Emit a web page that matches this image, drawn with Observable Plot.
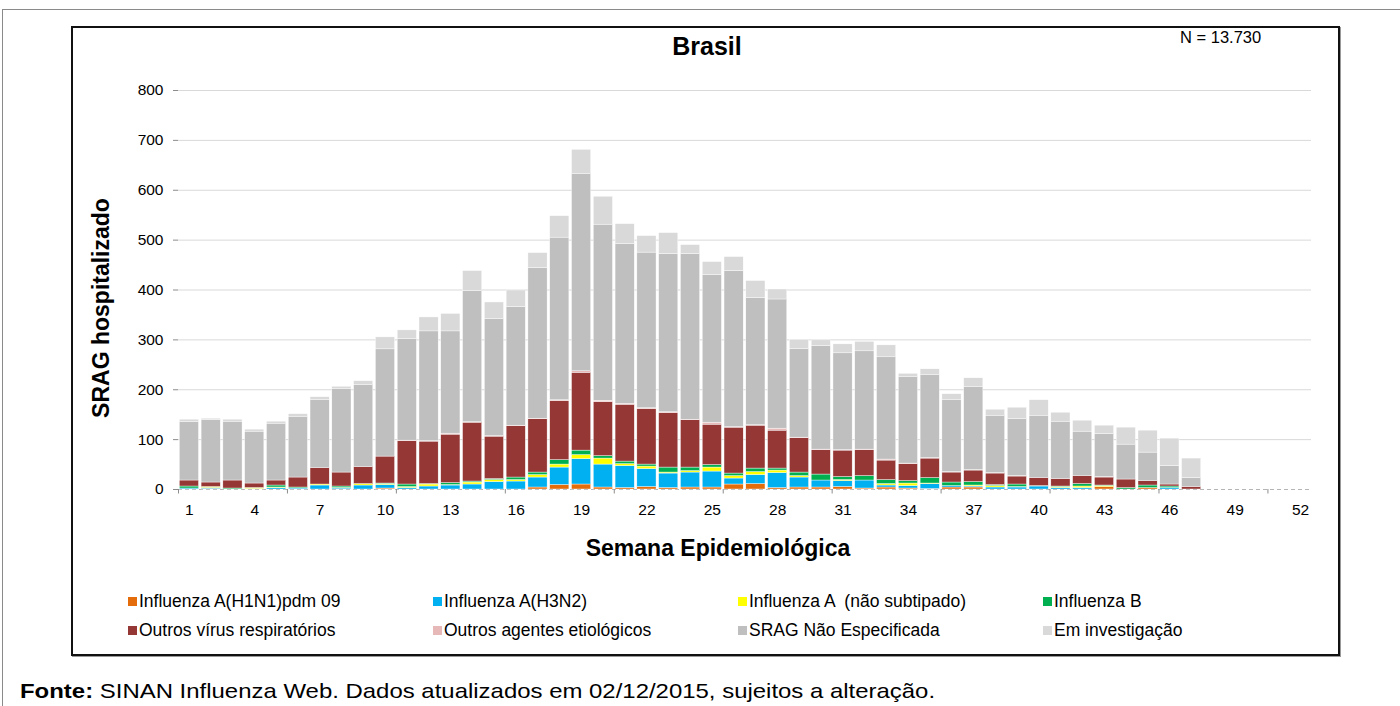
<!DOCTYPE html>
<html>
<head>
<meta charset="utf-8">
<script src="https://cdn.jsdelivr.net/npm/d3@7"></script>
<script src="https://cdn.jsdelivr.net/npm/@observablehq/plot@0.6"></script>
<style>
  html, body { margin: 0; padding: 0; background: #fff; }
  body { font-family: "Liberation Sans", Arial, sans-serif; }
  #wrap { position: relative; width: 1400px; height: 706px; overflow: hidden; }
  #outer { position: absolute; left: 2px; top: 9px; width: 1500px; height: 800px; border-left: 1.5px solid #8a8a8a; border-top: 1.5px solid #8a8a8a; }
  #box { position: absolute; left: 71px; top: 26px; width: 1265px; height: 626px; border: 2px solid #111; box-shadow: 1px 1px 0 #999; }
  #chart { position: absolute; left: 0; top: 0; }
  .t { position: absolute; white-space: pre; color: #000; }
  #title { left: 707px; top: 46px; transform: translate(-50%, -50%); font-weight: bold; font-size: 25px; }
  #n { left: 1180px; top: 28px; font-size: 16.5px; }
  #ylab { left: 101px; top: 308px; transform: translate(-50%, -50%) rotate(-90deg); font-weight: bold; font-size: 23px; }
  #xlab { left: 718px; top: 548px; transform: translate(-50%, -50%); font-weight: bold; font-size: 23px; }
  #legend .item { position: absolute; font-size: 17.5px; line-height: 20px; white-space: pre; }
  #legend .sw { display: inline-block; width: 9px; height: 9px; margin-right: 2px; vertical-align: 1px; }
  #caption { left: 20px; top: 679px; font-size: 21px; transform-origin: 0 50%; transform: scaleX(1.14); }
</style>
</head>
<body>
<div id="wrap">
  <div id="outer"></div>
  <div id="box"></div>
  <div id="chart"></div>
  <div class="t" id="title">Brasil</div>
  <div class="t" id="n">N = 13.730</div>
  <div class="t" id="ylab">SRAG hospitalizado</div>
  <div class="t" id="xlab">Semana Epidemiológica</div>
  <div id="legend"></div>
  <div class="t" id="caption"><b>Fonte:</b> SINAN Influenza Web. Dados atualizados em 02/12/2015, sujeitos a alteração.</div>
</div>
<script>
// ---- data (cases per epidemiological week) ----
const weeks = d3.range(1, 53);
const h1n1 = [0,1,0,0,0,0,0,0,0,2, 0,0,0,0,0,0,4,9,10,4, 3,5,3,4,4,10,11,3,4,4, 5,2,4,2,1,4,4,0,0,0, 0,0,5,0,3,0,0, 0,0,0,0,0];
const h3n2 = [2,2,0,1,3,2,8,2,8,7, 3,6,8,10,15,16,20,35,51,46, 44,36,29,30,32,12,18,30,20,14, 12,16,4,5,10,3,2,4,4,6, 3,3,0,0,0,3,0, 0,0,0,0,0];
const fluANaoSub = [0,2,0,2,1,0,2,1,3,2, 2,4,1,4,4,3,5,6,8,12, 4,5,2,3,8,5,6,5,3,0, 2,0,3,5,1,0,2,3,1,0, 2,3,2,0,0,0,0, 0,0,0,0,0];
const fluB = [4,0,2,0,4,2,0,3,0,1, 5,1,4,2,2,5,5,9,9,5, 5,4,10,7,5,5,7,4,7,12, 6,9,8,5,11,7,7,2,5,1, 1,5,1,3,5,3,0, 0,0,0,0,0];
const outrosVirus = [12,9,16,9,10,20,33,28,34,54, 87,85,97,118,85,103,107,118,156,108, 114,111,109,95,81,92,86,76,69,49, 53,52,39,34,39,20,23,23,16,16, 15,16,16,17,9,4,5, 0,0,0,0,0];
const outrosAgentes = [0,0,0,0,0,0,0,0,0,0, 1,1,2,1,1,1,1,2,3,3, 2,2,2,1,4,1,1,4,1,1, 1,1,2,1,1,1,1,1,1,0, 0,0,1,0,0,0,0, 0,0,0,0,0];
const sragNE = [117,125,118,104,114,122,137,168,165,215, 204,220,205,263,235,238,302,326,395,353, 320,312,317,332,296,313,255,259,178,208, 194,197,205,173,166,145,167,115,114,125, 115,89,86,70,57,37,18, 0,0,0,0,0];
const emInvestigacao = [5,3,4,4,4,5,5,4,7,24, 17,28,35,40,33,33,30,43,49,56, 40,33,42,18,26,28,34,20,18,11, 18,19,24,7,12,11,17,12,23,31, 18,22,17,34,44,55,39, 0,0,0,0,0];

const seriesNames = [
  "Influenza A(H1N1)pdm 09", "Influenza A(H3N2)", "Influenza A  (não subtipado)", "Influenza B",
  "Outros vírus respiratórios", "Outros agentes etiológicos", "SRAG Não Especificada", "Em investigação"
];
const seriesValues = [h1n1, h3n2, fluANaoSub, fluB, outrosVirus, outrosAgentes, sragNE, emInvestigacao];
const seriesColors = ["#E46C0A", "#00B0F0", "#FFFF00", "#00B050", "#953735", "#E6B9B8", "#BFBFBF", "#D9D9D9"];
const yTicks = [0, 100, 200, 300, 400, 500, 600, 700, 800];
const xTickLabels = [1, 4, 7, 10, 13, 16, 19, 22, 25, 28, 31, 34, 37, 40, 43, 46, 49, 52];
const boundaryTicks = [5, 10, 15, 20, 25, 30, 35, 40, 45, 50];

const rows = [];
seriesNames.forEach((s, i) => {
  weeks.forEach((w, j) => {
    const v = seriesValues[i][j];
    if (v > 0) rows.push({week: w, series: s, value: v});
  });
});

const W = 1400, H = 560, mL = 178, mR = 89, mT = 90, mB = 71;
const step = (W - mL - mR) / weeks.length;

const plot = Plot.plot({
  width: W, height: H,
  marginLeft: mL, marginRight: mR, marginTop: mT, marginBottom: mB,
  style: {fontFamily: "'Liberation Sans', Arial, sans-serif", fontSize: "15px", color: "#000", background: "transparent"},
  x: {type: "band", domain: weeks, paddingInner: 0.12, paddingOuter: 0.06, label: null},
  y: {domain: [0, 800], label: null},
  color: {domain: seriesNames, range: seriesColors},
  marks: [
    Plot.gridY(yTicks.filter(d => d > 0), {stroke: "#d9d9d9", strokeOpacity: 1}),
    Plot.ruleY([0], {stroke: "#b5b5b5", strokeDasharray: "4,3"}),
    Plot.barY(rows, {x: "week", y: "value", fill: "series", order: seriesNames, stroke: "white", strokeWidth: 0.4}),
    Plot.axisY({ticks: yTicks, tickSize: 5, tickPadding: 10, line: true, stroke: "#8c8c8c", fontSize: 15.5}),
    Plot.axisX({ticks: xTickLabels, tickSize: 0, tickPadding: 14, fontSize: 15.5}),
    Plot.ruleX(boundaryTicks, {x: d => d, y1: 0, y2: -9, dx: step / 2, stroke: "#8c8c8c"}),
    Plot.ruleX([1], {x: d => d, y1: 0, y2: -9, dx: -step / 2, stroke: "#8c8c8c"})
  ]
});
document.getElementById("chart").appendChild(plot);

// legend
const legend = document.getElementById("legend");
const colX = [128, 433, 738, 1043];
const rowY = [591, 620];
seriesNames.forEach((s, i) => {
  const d = document.createElement("div");
  d.className = "item";
  d.style.left = colX[i % 4] + "px";
  d.style.top = rowY[Math.floor(i / 4)] + "px";
  d.innerHTML = `<span class="sw" style="background:${seriesColors[i]}"></span>${s}`;
  legend.appendChild(d);
});
</script>
</body>
</html>
